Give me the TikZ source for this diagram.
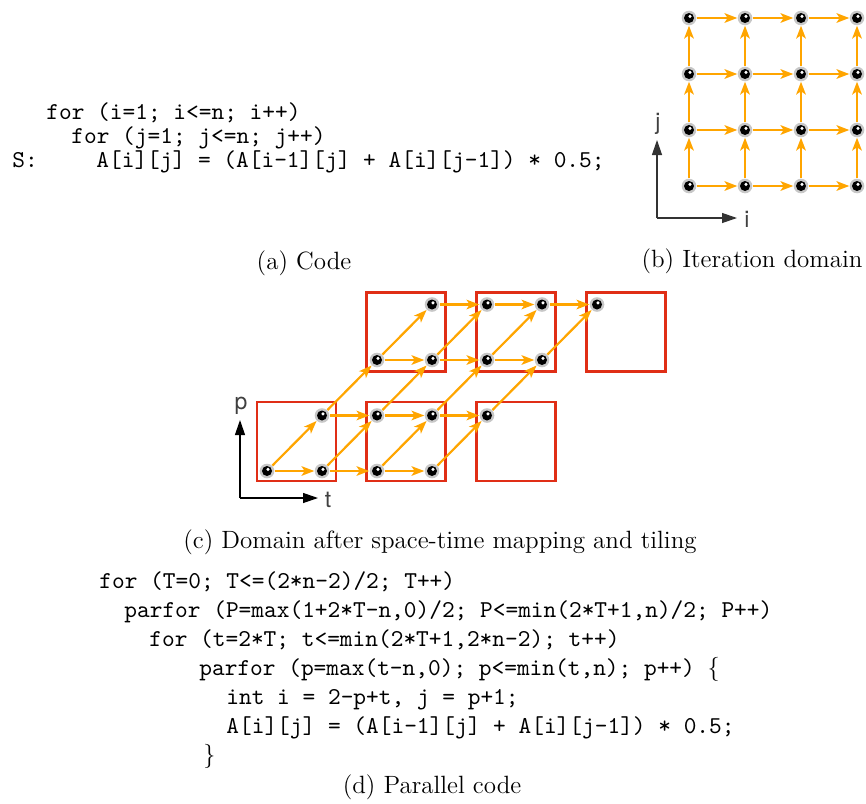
\documentclass[tikz,border=0pt]{standalone}
\usepackage{fontspec}
\newfontfamily\axisfont{TeX Gyre Heros}
\newfontfamily\codefont{lmmono10-regular.otf}
\usetikzlibrary{arrows.meta}
\definecolor{deporange}{RGB}{255,165,0}
\definecolor{tilered}{RGB}{224,46,22}
\begin{document}
\begin{tikzpicture}[x=0.5pt,y=-0.5pt,
  ballpt/.style={circle,minimum size=7.3pt,inner sep=0pt,fill=black!22,
    path picture={\fill[black] (path picture bounding box.center) circle (2.5pt);
      \fill[white] ([shift={(0.5pt,0.8pt)}]path picture bounding box.center) circle (0.85pt);}},
  dep/.style={draw=deporange,line width=1.1pt,-{Stealth[length=6.4pt,width=4.8pt,inset=1.6pt]}},
  axisline/.style={line width=0.6pt,-{Triangle[length=7.5pt,width=5pt]}},
  axislabel/.style={font=\axisfont\fontsize{11.5}{12}\selectfont,text=black!75,inner sep=0pt},
  codeline/.style={anchor=base west,inner sep=0pt,font=\codefont\fontsize{12.1}{12}\selectfont},
  caption/.style={anchor=base,inner sep=0pt,font=\fontsize{12.5}{14}\selectfont},
  tile/.style={draw=tilered,line width=1.25pt,minimum size=39.5pt,inner sep=0pt}]
\useasboundingbox (0,0) rectangle (866,803);

% ---------- (a) Code ----------
\node[codeline] (a1) at (46,119) {for (i=1; i<=n; i++)};
\node[codeline] (a2) at (71,143) {for (j=1; j<=n; j++)};
\node[codeline] (a3l) at (12,167) {S:};
\node[codeline] (a3) at (96,167) {A[i][j] = (A[i-1][j] + A[i][j-1]) * 0.5;};
\node[caption] (capa) at (304,269) {(a) Code};

% ---------- (b) Iteration domain ----------
\foreach \i in {0,...,3}{
  \foreach \j in {0,...,3}{
    \node[ballpt] (b\i\j) at ({689+56*\i},{186-56*\j}) {};
  }
}
\foreach \i in {0,...,3}{
  \foreach \j in {0,...,3}{
    \pgfmathtruncatemacro\k{\i+1}
    \pgfmathtruncatemacro\l{\j+1}
    \ifnum\i<3 \draw[dep] (b\i\j) -- (b\k\j); \fi
    \ifnum\j<3 \draw[dep] (b\i\j) -- (b\i\l); \fi
  }
}
\coordinate (bo) at (657,218);
\coordinate (bx) at (737,218);
\coordinate (by) at (657,140);
\draw[axisline,black!80] (bo) -- (bx);
\draw[axisline,black!80] (bo) -- (by);
\node[axislabel] (bi) at (747,219) {i};
\node[axislabel] (bj) at (658,124) {j};
\node[caption] (capb) at (752,267) {(b) Iteration domain};

% ---------- (c) Tiled domain ----------
\node[tile] (T00) at (296.5,441.5) {};
\node[tile] (T10) at (406,441.5) {};
\node[tile] (T20) at (516,441.5) {};
\node[tile] (T11) at (406,332) {};
\node[tile] (T21) at (516,332) {};
\node[tile] (T31) at (626,332) {};
\foreach \i in {0,...,3}{
  \foreach \j in {0,...,3}{
    \pgfmathtruncatemacro\tt{\i+\j}
    \node[ballpt] (c\i\j) at ({267+55*\tt},{471-55.5*\j}) {};
  }
}
\foreach \i in {0,...,3}{
  \foreach \j in {0,...,3}{
    \pgfmathtruncatemacro\k{\i+1}
    \pgfmathtruncatemacro\l{\j+1}
    \ifnum\i<3 \draw[dep] (c\i\j) -- (c\k\j); \fi
    \ifnum\j<3 \draw[dep] (c\i\j) -- (c\i\l); \fi
  }
}
\coordinate (co) at (240,498);
\coordinate (cx) at (318,498);
\coordinate (cy) at (240,420);
\draw[axisline] (co) -- (cx);
\draw[axisline] (co) -- (cy);
\node[axislabel] (cp) at (241,406) {p};
\node[axislabel] (ct) at (328,500) {t};
\node[caption] (capc) at (440,548) {(c) Domain after space-time mapping and tiling};

% ---------- (d) Parallel code ----------
\node[codeline] (d1) at (99,588) {for (T=0; T<=(2*n-2)/2; T++)};
\node[codeline] (d2) at (124,617) {parfor (P=max(1+2*T-n,0)/2; P<=min(2*T+1,n)/2; P++)};
\node[codeline] (d3) at (149,646) {for (t=2*T; t<=min(2*T+1,2*n-2); t++)};
\node[codeline] (d4) at (199,675) {parfor (p=max(t-n,0); p<=min(t,n); p++) {\rmfamily\{}};
\node[codeline] (d5) at (226,704) {int i = 2-p+t, j = p+1;};
\node[codeline] (d6) at (226,733) {A[i][j] = (A[i-1][j] + A[i][j-1]) * 0.5;};
\node[codeline] (d7) at (203,762) {{\rmfamily\}}};
\node[caption] (capd) at (432,793) {(d) Parallel code};
\end{tikzpicture}
\end{document}
